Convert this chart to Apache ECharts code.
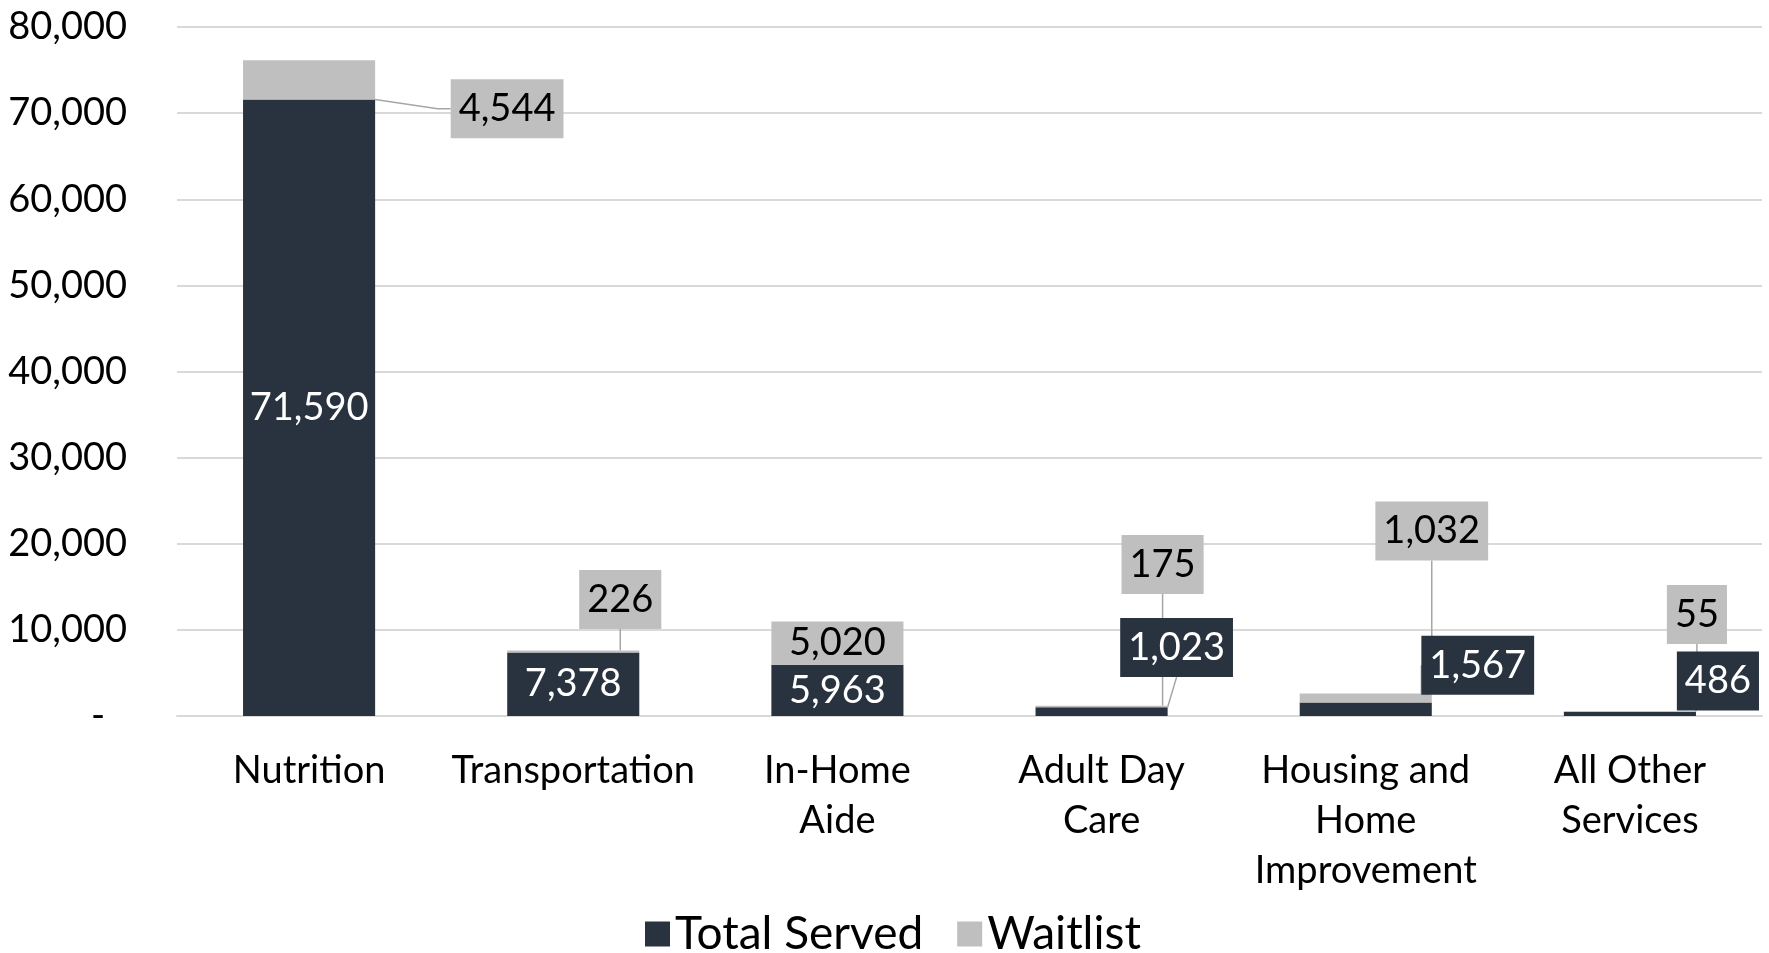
<!DOCTYPE html>
<html>
<head>
<meta charset="utf-8">
<script src="https://cdn.jsdelivr.net/npm/echarts@6/dist/echarts.min.js"></script>
<style>
  html, body { margin: 0; padding: 0; background: #fff; }
  #chart { width: 1769px; height: 953px; }
</style>
</head>
<body>
<div id="chart"></div>
<script>
const categories = ['Nutrition', 'Transportation', 'In-Home\nAide', 'Adult Day\nCare', 'Housing and\nHome\nImprovement', 'All Other\nServices'];
const totalServed = [71590, 7378, 5963, 1023, 1567, 486];
const waitlist = [4544, 226, 5020, 175, 1032, 55];

const DARK = '#29333f';
const GREY = '#bfbfbf';

// callout label offsets [dx, dy, length2] from the default inside spot, null keeps it inside
const servedCallouts = [null, null, null, [75, -64, 0], [112, -44, 0], [88, -33, -1]];
const waitCallouts = [[198, 29, 13], [47, -52, 0], null, [61, -142, 13], [66, -167, 0], [67, -97, 13]];

function buildItems(values, callouts, boxColor) {
    return values.map((v, i) => {
        const c = callouts[i];
        if (!c) return v;
        return {
            value: v,
            label: { backgroundColor: boxColor, padding: [11, 8, 10, 8] },
            labelLine: { show: c[2] >= 0, length2: Math.max(c[2], 0) }
        };
    });
}

function layoutFrom(callouts) {
    return function (p) {
        const c = callouts[p.dataIndex];
        return c ? { dx: c[0], dy: c[1] } : {};
    };
}

const fmt = v => v.toLocaleString('en-US');

let myChart = echarts.init(document.querySelector('#chart'));

let option = {
    animation: false,
    textStyle: { fontFamily: 'Lato' },
    grid: { left: 177, right: 7, top: 27, bottom: 237 },
    legend: {
        data: ['Total Served', 'Waitlist'],
        left: 640,
        top: 906,
        itemWidth: 25,
        itemHeight: 25,
        itemGap: 34,
        icon: 'rect',
        textStyle: { fontSize: 46, color: '#000', fontFamily: 'Lato' }
    },
    xAxis: {
        type: 'category',
        data: categories,
        axisLine: { lineStyle: { color: '#d9d9d9', width: 2 } },
        axisTick: { show: false },
        axisLabel: {
            interval: 0,
            margin: 30,
            fontSize: 38,
            lineHeight: 50,
            color: '#000',
            fontFamily: 'Lato'
        }
    },
    yAxis: {
        type: 'value',
        min: 0,
        max: 80000,
        interval: 10000,
        axisLine: { show: false },
        axisTick: { show: false },
        splitLine: { lineStyle: { color: '#d9d9d9', width: 2 } },
        axisLabel: {
            margin: 50,
            fontSize: 38,
            color: '#000',
            fontFamily: 'Lato',
            formatter: v => v === 0 ? '{d|-}' : fmt(v),
            rich: { d: { fontSize: 38, color: '#000', padding: [0, 22, 0, 0] } }
        }
    },
    series: [
        {
            name: 'Total Served',
            type: 'bar',
            stack: 'all',
            barWidth: '50%',
            itemStyle: { color: DARK },
            data: buildItems(totalServed, servedCallouts, DARK),
            label: {
                show: true,
                position: 'inside',
                fontSize: 38,
                color: '#fff',
                fontFamily: 'Lato',
                formatter: p => fmt(p.value)
            },
            labelLine: { lineStyle: { color: '#a6a6a6', width: 1.5 } },
            labelLayout: layoutFrom(servedCallouts)
        },
        {
            name: 'Waitlist',
            type: 'bar',
            stack: 'all',
            barWidth: '50%',
            itemStyle: { color: GREY },
            data: buildItems(waitlist, waitCallouts, GREY),
            label: {
                show: true,
                position: 'inside',
                fontSize: 38,
                color: '#000',
                fontFamily: 'Lato',
                formatter: p => fmt(p.value)
            },
            labelLine: { lineStyle: { color: '#a6a6a6', width: 1.5 } },
            labelLayout: layoutFrom(waitCallouts)
        }
    ]
};

myChart.setOption(option);
</script>
</body>
</html>
